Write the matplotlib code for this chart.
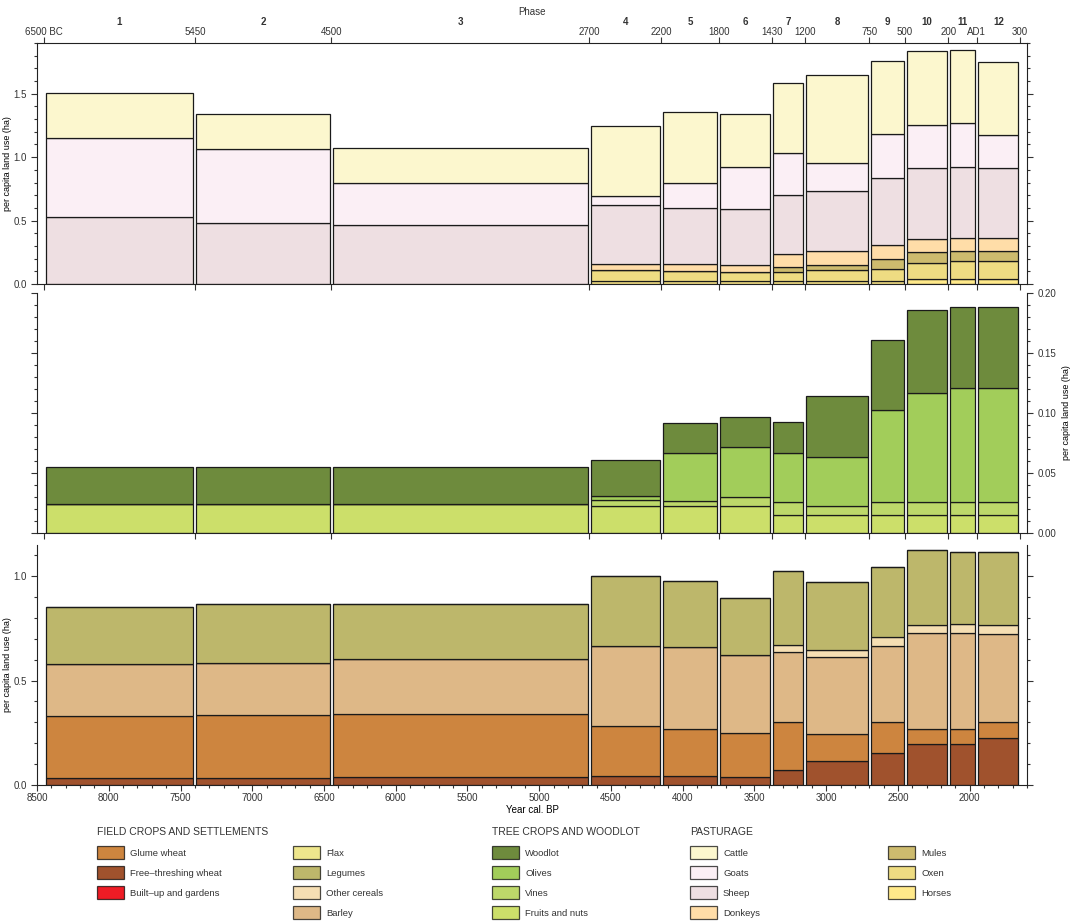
import numpy as np
import matplotlib
matplotlib.use('Agg')
import matplotlib.pyplot as plt
from matplotlib.patches import Rectangle
from matplotlib.ticker import MultipleLocator, FormatStrFormatter

plt.rcParams['font.family'] = ['Liberation Sans', 'DejaVu Sans']
plt.rcParams['font.size'] = 7
plt.rcParams['text.color'] = '#333333'
plt.rcParams['xtick.color'] = '#333333'
plt.rcParams['ytick.color'] = '#333333'
plt.rcParams['axes.edgecolor'] = '#222222'

# phase boundaries in cal. BP and their calendar labels
bounds = [8450, 7400, 6450, 4650, 4150, 3750, 3380, 3150, 2700, 2450, 2150, 1950, 1650]
bound_labels = ['6500 BC', '5450', '4500', '2700', '2200', '1800', '1430', '1200',
                '750', '500', '200', 'AD1', '300']
phases = ['1', '2', '3', '4', '5', '6', '7', '8', '9', '10', '11', '12']

# pasturage (ha per capita), bottom to top
horses  = [0, 0, 0, 0.021, 0.021, 0.021, 0.021, 0.021, 0.021, 0.042, 0.042, 0.042]
oxen    = [0, 0, 0, 0.087, 0.084, 0.071, 0.071, 0.087, 0.100, 0.126, 0.137, 0.137]
mules   = [0, 0, 0, 0, 0, 0, 0.040, 0.039, 0.079, 0.082, 0.079, 0.079]
donkeys = [0, 0, 0, 0.050, 0.050, 0.055, 0.107, 0.111, 0.110, 0.103, 0.105, 0.105]
sheep   = [0.525, 0.483, 0.462, 0.463, 0.445, 0.447, 0.463, 0.479, 0.527, 0.563, 0.563, 0.553]
goats   = [0.625, 0.578, 0.332, 0.076, 0.200, 0.332, 0.329, 0.220, 0.342, 0.341, 0.342, 0.257]
cattle  = [0.354, 0.277, 0.277, 0.550, 0.555, 0.414, 0.553, 0.693, 0.576, 0.577, 0.574, 0.577]

# tree crops and woodlot, bottom to top
fruits  = [0.024, 0.024, 0.024, 0.0222, 0.0222, 0.0222, 0.0147, 0.0147, 0.0147, 0.0147, 0.0147, 0.0147]
vines   = [0, 0, 0, 0.0050, 0.0047, 0.0081, 0.0109, 0.0075, 0.0109, 0.0109, 0.0109, 0.0109]
olives  = [0, 0, 0, 0.0034, 0.0398, 0.0411, 0.0411, 0.0411, 0.0769, 0.0911, 0.0950, 0.0950]
woodlot = [0.031, 0.031, 0.031, 0.0305, 0.0250, 0.0253, 0.0255, 0.0506, 0.0581, 0.0691, 0.0680, 0.0680]

# field crops and settlements, bottom to top
builtup = [0, 0, 0, 0, 0, 0, 0, 0, 0, 0, 0, 0]
freethr = [0.033, 0.033, 0.038, 0.042, 0.042, 0.040, 0.072, 0.115, 0.155, 0.196, 0.196, 0.226]
glume   = [0.298, 0.303, 0.303, 0.239, 0.224, 0.210, 0.228, 0.129, 0.145, 0.074, 0.074, 0.077]
barley  = [0.250, 0.247, 0.261, 0.387, 0.393, 0.375, 0.336, 0.370, 0.368, 0.456, 0.459, 0.421]
othercer = [0, 0, 0, 0, 0, 0, 0.037, 0.035, 0.043, 0.041, 0.041, 0.043]
legumes = [0.271, 0.282, 0.263, 0.332, 0.320, 0.273, 0.354, 0.322, 0.334, 0.359, 0.346, 0.349]
flax    = [0, 0, 0, 0, 0, 0, 0, 0, 0, 0, 0, 0]

col = {
    'Glume wheat': '#CD853F', 'Free–threshing wheat': '#A0522D', 'Built–up and gardens': '#EE1C25',
    'Flax': '#EEE68C', 'Legumes': '#BDB76B', 'Other cereals': '#F5DEB3', 'Barley': '#DEB887',
    'Woodlot': '#6E8B3D', 'Olives': '#A2CD5A', 'Vines': '#BDD86A', 'Fruits and nuts': '#CCDF6A',
    'Cattle': '#FCF7CE', 'Goats': '#FBEFF5', 'Sheep': '#EEDFE2', 'Donkeys': '#FFDDA8',
    'Mules': '#CDBB6E', 'Oxen': '#EEDC82', 'Horses': '#FFE98A',
}

left = np.array(bounds[:-1], dtype=float)
right = np.array(bounds[1:], dtype=float)
centers = (left + right) / 2
widths = (left - right) - 22


def stack(ax, layers):
    bottom = np.zeros(len(centers))
    for name, vals in layers:
        vals = np.array(vals, dtype=float)
        ax.bar(centers, vals, widths, bottom=bottom, color=col[name],
               edgecolor='#1a1a1a', linewidth=0.9)
        bottom += vals


fig = plt.figure(figsize=(10.74, 9.21), dpi=100)
ax1 = fig.add_axes([0.0345, 0.6916, 0.9218, 0.2617])
ax2 = fig.add_axes([0.0345, 0.4213, 0.9218, 0.2606])
ax3 = fig.add_axes([0.0345, 0.1477, 0.9218, 0.2606])

stack(ax1, [('Horses', horses), ('Oxen', oxen), ('Mules', mules), ('Donkeys', donkeys),
            ('Sheep', sheep), ('Goats', goats), ('Cattle', cattle)])
stack(ax2, [('Fruits and nuts', fruits), ('Vines', vines), ('Olives', olives), ('Woodlot', woodlot)])
stack(ax3, [('Built–up and gardens', builtup), ('Free–threshing wheat', freethr),
            ('Glume wheat', glume), ('Barley', barley), ('Other cereals', othercer),
            ('Legumes', legumes), ('Flax', flax)])

for ax in (ax1, ax2, ax3):
    ax.set_xlim(8500, 1600)
    ax.tick_params(which='both', direction='out', width=0.8)
    ax.tick_params(which='major', length=4)
    ax.tick_params(which='minor', length=2.5)

# top panel: phase axis on top
ax1.set_ylim(0, 1.9)
ax1.set_xticks(bounds)
ax1.set_xticklabels(bound_labels)
ax1.tick_params(axis='x', top=True, labeltop=True, bottom=True, labelbottom=False, pad=0.5)
ax1.yaxis.set_major_locator(MultipleLocator(0.5))
ax1.yaxis.set_minor_locator(MultipleLocator(0.1))
ax1.yaxis.set_major_formatter(FormatStrFormatter('%.1f'))
ax1.tick_params(axis='y', which='both', left=True, right=True, labelright=False)
ax1.set_ylabel('per capita land use (ha)', fontsize=6.5)
ax1.yaxis.set_label_coords(-0.025, 0.5)
for c, p in zip(centers, phases):
    ax1.annotate(p, xy=(c, 1), xycoords=('data', 'axes fraction'), xytext=(0, 11.5),
                 textcoords='offset points', ha='center', va='bottom', fontweight='bold')
ax1.annotate('Phase', xy=(0.5, 1), xycoords='axes fraction', xytext=(0, 19),
             textcoords='offset points', ha='center', va='bottom')

# middle panel
ax2.spines['top'].set_visible(False)
ax2.set_ylim(0, 0.2)
ax2.set_xticks(bounds)
ax2.set_xticklabels([])
ax2.yaxis.set_major_locator(MultipleLocator(0.05))
ax2.yaxis.set_minor_locator(MultipleLocator(0.01))
ax2.yaxis.set_major_formatter(FormatStrFormatter('%.2f'))
ax2.tick_params(axis='y', which='both', left=True, right=True, labelleft=False, labelright=True)
ax2.yaxis.set_label_position('right')
ax2.set_ylabel('per capita land use (ha)', fontsize=6.5)
ax2.yaxis.set_label_coords(1.035, 0.5)

# bottom panel
ax3.spines['top'].set_visible(False)
ax3.set_ylim(0, 1.15)
ax3.xaxis.set_major_locator(MultipleLocator(500))
ax3.xaxis.set_minor_locator(MultipleLocator(100))
ax3.yaxis.set_major_locator(MultipleLocator(0.5))
ax3.yaxis.set_minor_locator(MultipleLocator(0.1))
ax3.yaxis.set_major_formatter(FormatStrFormatter('%.1f'))
ax3.tick_params(axis='y', which='both', left=True, right=True, labelright=False)
ax3.tick_params(axis='x', pad=2)
ax3.set_ylabel('per capita land use (ha)', fontsize=6.5)
ax3.yaxis.set_label_coords(-0.025, 0.5)
ax3.set_xlabel('Year cal. BP', labelpad=1)

# legend drawn in pixel coordinates
lg = fig.add_axes([0, 0, 1, 106 / 921])
lg.set_xlim(0, 1074)
lg.set_ylim(921, 815)
lg.axis('off')

headers = [('FIELD CROPS AND SETTLEMENTS', 97), ('TREE CROPS AND WOODLOT', 492), ('PASTURAGE', 690)]
for h, x in headers:
    lg.text(x, 832, h, fontsize=7.5, va='center', ha='left')

columns = [
    (97, ['Glume wheat', 'Free–threshing wheat', 'Built–up and gardens']),
    (293, ['Flax', 'Legumes', 'Other cereals', 'Barley']),
    (492, ['Woodlot', 'Olives', 'Vines', 'Fruits and nuts']),
    (690, ['Cattle', 'Goats', 'Sheep', 'Donkeys']),
    (888, ['Mules', 'Oxen', 'Horses']),
]
for x, names in columns:
    for i, name in enumerate(names):
        y = 853 + i * 20
        lg.add_patch(Rectangle((x, y - 6.5), 27, 13, facecolor=col[name],
                               edgecolor=(0, 0, 0, 0.7), linewidth=0.9))
        lg.text(x + 33, y, name, fontsize=6.8, va='center', ha='left')

fig.savefig('out.png', dpi=100)
